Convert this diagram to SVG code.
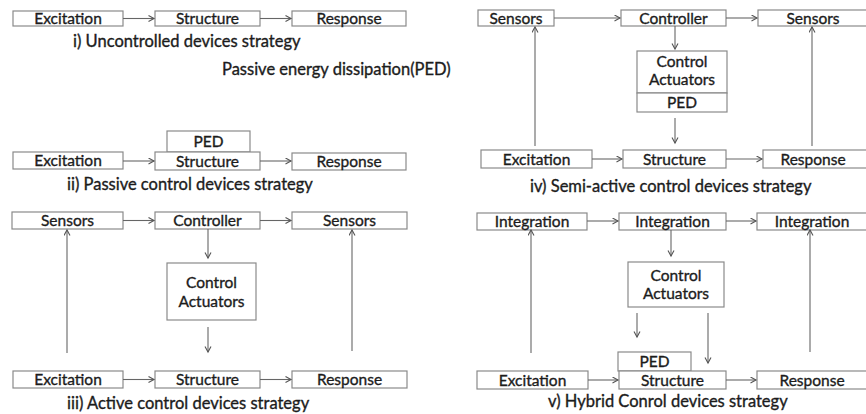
<svg xmlns="http://www.w3.org/2000/svg" width="866" height="414" viewBox="0 0 866 414">
<defs>
<marker id="ah" markerWidth="8" markerHeight="8" refX="6" refY="3.5" orient="auto" markerUnits="userSpaceOnUse">
<path d="M0.5,0.5 L6,3.5 L0.5,6.5" fill="none" stroke="#555" stroke-width="1.1"/>
</marker>
<style>
rect{fill:#fff;stroke:#8a8a8a;stroke-width:1.2}
text{font-family:Lato,"Open Sans","Liberation Sans",sans-serif;fill:#1c1c1c;stroke:#1c1c1c;stroke-width:0.35}
.b{font-size:15.5px;text-anchor:middle}
.c{font-size:16.5px}
.p{font-size:16.5px}
#connectors line{stroke:#666;stroke-width:1.1;marker-end:url(#ah)}
</style>
</defs>
<rect x="0" y="0" width="866" height="414" style="fill:#fff;stroke:none"/>

<!-- Panel i -->
<g id="i-excitation"><rect x="13" y="11" width="110" height="15"/><text class="b" x="68" y="24">Excitation</text></g>
<g id="i-structure"><rect x="155" y="11" width="105" height="15"/><text class="b" x="207.5" y="24">Structure</text></g>
<g id="i-response"><rect x="292" y="11" width="114" height="15"/><text class="b" x="349" y="24">Response</text></g>
<text class="c" x="73" y="47">i) Uncontrolled devices strategy</text>
<text class="p" x="222" y="75">Passive energy dissipation(PED)</text>

<!-- Panel ii -->
<g id="ii-ped"><rect x="167" y="131" width="83" height="21"/><text class="b" x="208.5" y="146.5">PED</text></g>
<g id="ii-excitation"><rect x="13" y="152" width="110" height="17"/><text class="b" x="68" y="166">Excitation</text></g>
<g id="ii-structure"><rect x="155" y="152" width="105" height="18"/><text class="b" x="207.5" y="166.5">Structure</text></g>
<g id="ii-response"><rect x="292" y="153" width="114" height="17"/><text class="b" x="349" y="167">Response</text></g>
<text class="c" x="67" y="190">ii) Passive control devices strategy</text>

<!-- Panel iii -->
<g id="iii-sensors-l"><rect x="12" y="212" width="111" height="17"/><text class="b" x="67.5" y="226">Sensors</text></g>
<g id="iii-controller"><rect x="155" y="212" width="105" height="17"/><text class="b" x="207.5" y="226">Controller</text></g>
<g id="iii-sensors-r"><rect x="292" y="212" width="115" height="17"/><text class="b" x="349.5" y="226">Sensors</text></g>
<g id="iii-actuators"><rect x="167" y="263" width="89" height="57"/><text class="b" x="211.5" y="287.5">Control</text><text class="b" x="211.5" y="306.5">Actuators</text></g>
<g id="iii-excitation"><rect x="13" y="371" width="110" height="17"/><text class="b" x="68" y="385">Excitation</text></g>
<g id="iii-structure"><rect x="155" y="371" width="105" height="17"/><text class="b" x="207.5" y="385">Structure</text></g>
<g id="iii-response"><rect x="292" y="371" width="115" height="17"/><text class="b" x="349.5" y="385">Response</text></g>
<text class="c" x="67" y="409">iii) Active control devices strategy</text>

<!-- Panel iv -->
<g id="iv-sensors-l"><rect x="478" y="10" width="76" height="16"/><text class="b" x="516" y="23.5">Sensors</text></g>
<g id="iv-controller"><rect x="621" y="10" width="105" height="16"/><text class="b" x="673.5" y="23.5">Controller</text></g>
<g id="iv-sensors-r"><rect x="758" y="10" width="112" height="16"/><text class="b" x="813" y="23.5">Sensors</text></g>
<g id="iv-actuators"><rect x="637" y="51" width="90" height="42"/><text class="b" x="682" y="66.5">Control</text><text class="b" x="682" y="84.5">Actuators</text></g>
<g id="iv-ped"><rect x="637" y="93" width="90" height="19"/><text class="b" x="682" y="108">PED</text></g>
<g id="iv-excitation"><rect x="481" y="150" width="111" height="18"/><text class="b" x="536.5" y="164.5">Excitation</text></g>
<g id="iv-structure"><rect x="623" y="150" width="103" height="18"/><text class="b" x="674.5" y="164.5">Structure</text></g>
<g id="iv-response"><rect x="763" y="150" width="107" height="18"/><text class="b" x="813" y="164.5">Response</text></g>
<text class="c" x="530" y="192">iv) Semi-active control devices  strategy</text>

<!-- Panel v -->
<g id="v-integration-l"><rect x="477" y="213" width="110" height="17"/><text class="b" x="532" y="227">Integration</text></g>
<g id="v-integration-m"><rect x="619" y="213" width="107" height="17"/><text class="b" x="672.5" y="227">Integration</text></g>
<g id="v-integration-r"><rect x="757" y="213" width="112" height="17"/><text class="b" x="812" y="227">Integration</text></g>
<g id="v-actuators"><rect x="628" y="262" width="96" height="45"/><text class="b" x="676" y="280.5">Control</text><text class="b" x="676" y="298.5">Actuators</text></g>
<g id="v-ped"><rect x="618" y="352" width="73" height="19"/><text class="b" x="654.5" y="366.5">PED</text></g>
<g id="v-excitation"><rect x="477" y="371" width="111" height="18"/><text class="b" x="532.5" y="385.5">Excitation</text></g>
<g id="v-structure"><rect x="619" y="371" width="107" height="18"/><text class="b" x="672.5" y="385.5">Structure</text></g>
<g id="v-response"><rect x="757" y="371" width="112" height="18"/><text class="b" x="812" y="385.5">Response</text></g>
<text class="c" x="548" y="407">v) Hybrid Conrol devices strategy</text>

<g id="connectors">
<!-- i -->
<line x1="123" y1="18.5" x2="154" y2="18.5"/>
<line x1="260" y1="18.5" x2="291" y2="18.5"/>
<!-- ii -->
<line x1="123" y1="161" x2="154" y2="161"/>
<line x1="260" y1="161" x2="291" y2="161"/>
<!-- iii -->
<line x1="123" y1="220.5" x2="154" y2="220.5"/>
<line x1="260" y1="220.5" x2="291" y2="220.5"/>
<line x1="208" y1="229" x2="208" y2="258"/>
<line x1="208" y1="327" x2="208" y2="352"/>
<line x1="67" y1="353" x2="67" y2="230"/>
<line x1="352" y1="351" x2="352" y2="230"/>
<line x1="123" y1="379.5" x2="154" y2="379.5"/>
<line x1="260" y1="379.5" x2="291" y2="379.5"/>
<!-- iv -->
<line x1="554" y1="18" x2="620" y2="18"/>
<line x1="726" y1="18" x2="757" y2="18"/>
<line x1="675" y1="26" x2="675" y2="49"/>
<line x1="675" y1="118" x2="675" y2="143"/>
<line x1="535" y1="146" x2="535" y2="27"/>
<line x1="812" y1="146" x2="812" y2="27"/>
<line x1="592" y1="159" x2="622" y2="159"/>
<line x1="726" y1="159" x2="762" y2="159"/>
<!-- v -->
<line x1="587" y1="221" x2="618" y2="221"/>
<line x1="726" y1="221" x2="756" y2="221"/>
<line x1="671" y1="230" x2="671" y2="256"/>
<line x1="637" y1="313" x2="637" y2="337"/>
<line x1="708" y1="313" x2="708" y2="363"/>
<line x1="531" y1="353" x2="531" y2="230"/>
<line x1="810" y1="352" x2="810" y2="230"/>
<line x1="588" y1="380" x2="618" y2="380"/>
<line x1="726" y1="380" x2="756" y2="380"/>
</g>
</svg>
